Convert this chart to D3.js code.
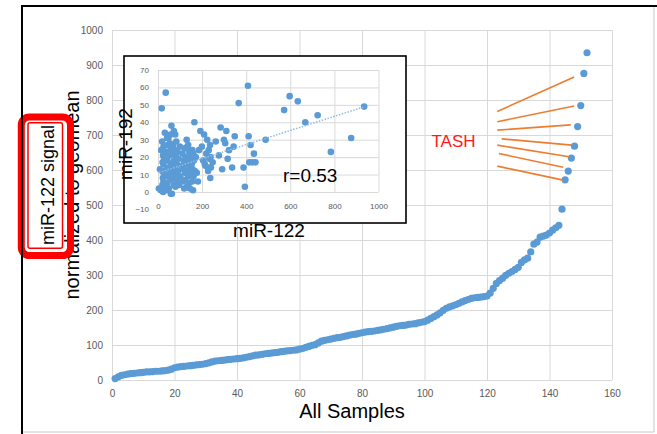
<!DOCTYPE html>
<html>
<head>
<meta charset="utf-8">
<script src="https://cdn.jsdelivr.net/npm/d3@7"></script>
<style>
  html, body { margin: 0; padding: 0; background: #fff; }
  svg { display: block; font-family: "Liberation Sans", Arial, sans-serif; }
</style>
</head>
<body>
<div id="chart"></div>
<script>
// miR-122 signal per sample, in sample (rank) order
const mir122 = [
  4, 9, 13, 15, 17, 18, 19, 20, 21, 22, 23, 23, 24, 25, 25, 26, 27, 28, 31, 35,
  37, 38, 39, 40, 41, 42, 43, 44, 45, 47, 49, 52, 54, 55, 56, 57, 58, 59, 60, 61,
  62, 63, 65, 67, 69, 71, 72, 73, 75, 76, 77, 78, 79, 81, 82, 83, 84, 85, 86, 88,
  90, 93, 96, 99, 101, 106, 111, 113, 115, 117, 119, 121, 122, 124, 126, 128, 130, 131, 133, 135,
  137, 138, 139, 140, 142, 143, 145, 147, 149, 151, 153, 155, 156, 157, 159, 160, 161, 163, 165, 167,
  171, 176, 181, 186, 192, 199, 205, 209, 212, 215, 219, 223, 227, 230, 233, 235, 236, 237, 238, 240,
  248, 262, 276, 284, 291, 299, 305, 310, 316, 322, 336, 343, 348, 366, 388, 394, 408, 411, 414, 420,
  428, 435, 442, 488, 572, 597, 634, 668, 724, 784, 876, 935
];
// miR-192 signal for the same samples
const mir192 = [
  2, 13, 1, 24, 48, 12, 29, 4, 17, 8, 21, 0, 16, 26, 6, 11, 3, 19, 34, 57,
  9, 1, 23, 14, 31, 5, 18, 27, 10, 31, 2, 21, 28, 13, 7, 33, -1, 25, 16, 38,
  9, -1, 22, 12, 27, 4, 35, 18, 8, 24, 14, 33, 3, 20, 11, 29, 6, 16, 7, 23,
  12, 19, 4, 26, 9, 15, 22, 6, 13, 18, 2, 25, 11, 7, 20, 16, 30, 3, 26, 12,
  27, 9, 19, 5, 23, 14, 2, 17, 10, 21, 16, 6, 24, 13, 1, 22, 9, 18, 40, 12,
  20, 11, 6, 24, 35, 26, 18, 33, 16, 15, 22, 30, 12, 24, 19, 14, 27, 8, 20, 14,
  17, 29, 21, 37, 13, 30, 28, 35, 19, 24, 14, 26, 32, 51, 14, 3, 61, 32, 17, 27,
  17, 22, 17, 30, 47, 55, 52, 40, 44, 23, 31, 49
];

const mainXTicks = [0, 20, 40, 60, 80, 100, 120, 140, 160];
const mainYTicks = [0, 100, 200, 300, 400, 500, 600, 700, 800, 900, 1000];
const insetXTicks = [0, 200, 400, 600, 800, 1000];
const insetYTicks = [-10, 0, 10, 20, 30, 40, 50, 60, 70];

// linear trendline of the inset
const trendIntercept = 11;
const trendSlope = 0.0405;

// TASH pointer lines, in main chart units (sample, signal)
const tashFromX = [123.3, 123.3, 123.3, 124.7, 123.3, 123.8, 123.3];
const tashFromY = [767, 738, 714, 689, 671, 647, 611];
const tashToX = [147.9, 147.9, 146.8, 147.1, 146.3, 144.4, 144.4];
const tashToY = [866, 783, 729, 671, 638, 608, 571];

const W = 657, H = 434;
const blue = "#5b9bd5", grid = "#d9d9d9", tickCol = "#595959";
const fmt = d3.format("d");

const svg = d3.select("#chart").append("svg")
    .attr("width", W)
    .attr("height", H);

svg.append("rect").attr("width", W).attr("height", H).attr("fill", "#fff");

// ---- main chart
const x = d3.scaleLinear().domain([0, 160]).range([112, 612]);
const y = d3.scaleLinear().domain([0, 1000]).range([380, 30]);

const yAxis = svg.append("g")
    .attr("transform", `translate(${x(0)},0)`)
    .call(d3.axisLeft(y).tickValues(mainYTicks).tickFormat(fmt)
        .tickSize(-(x(160) - x(0))).tickPadding(9));
const xAxis = svg.append("g")
    .attr("transform", `translate(0,${y(0)})`)
    .call(d3.axisBottom(x).tickValues(mainXTicks).tickFormat(fmt)
        .tickSize(-(y(0) - y(1000))).tickPadding(10));

[xAxis, yAxis].forEach(function (g) {
    g.select(".domain").remove();
    g.selectAll(".tick line").attr("stroke", grid);
    g.selectAll(".tick text")
        .attr("fill", tickCol)
        .style("font-size", "10px")
        .style("font-family", "'Liberation Sans', Arial, sans-serif");
});

svg.append("g").selectAll("circle")
    .data(mir122)
    .join("circle")
    .attr("cx", (d, i) => x(i + 1))
    .attr("cy", d => y(d))
    .attr("r", 3.6)
    .attr("fill", blue);

// TASH annotation
svg.append("g").selectAll("line")
    .data(tashFromX)
    .join("line")
    .attr("x1", d => x(d))
    .attr("y1", (d, i) => y(tashFromY[i]))
    .attr("x2", (d, i) => x(tashToX[i]))
    .attr("y2", (d, i) => y(tashToY[i]))
    .attr("stroke", "#ed7d31")
    .attr("stroke-width", 1.6);

svg.append("text")
    .attr("x", 431.5)
    .attr("y", 146.5)
    .attr("fill", "#ff1a1a")
    .style("font-size", "17px")
    .text("TASH");

// axis titles
svg.append("text")
    .attr("x", 352)
    .attr("y", 418)
    .attr("text-anchor", "middle")
    .style("font-size", "20px")
    .text("All Samples");

svg.append("text")
    .attr("transform", "translate(72,195) rotate(-90)")
    .attr("dy", "0.35em")
    .attr("text-anchor", "middle")
    .style("font-size", "20px")
    .text("normalized to geomean");

svg.append("text")
    .attr("transform", "translate(47.5,185) rotate(-90)")
    .attr("dy", "0.35em")
    .attr("text-anchor", "middle")
    .style("font-size", "18px")
    .text("miR-122 signal");

// red highlight box
svg.append("rect")
    .attr("x", 21.3).attr("y", 117)
    .attr("width", 49.2).attr("height", 138.5)
    .attr("rx", 8)
    .attr("fill", "none")
    .attr("stroke", "#ff0000")
    .attr("stroke-width", 7);
svg.append("rect")
    .attr("x", 28).attr("y", 122.7)
    .attr("width", 34.5).attr("height", 125.6)
    .attr("rx", 2)
    .attr("fill", "none")
    .attr("stroke", "#ff0000")
    .attr("stroke-width", 1.5);

// ---- inset scatter
svg.append("rect")
    .attr("x", 124).attr("y", 56)
    .attr("width", 282).attr("height", 167)
    .attr("fill", "#fff")
    .attr("stroke", "#000")
    .attr("stroke-width", 1.6);

const ix = d3.scaleLinear().domain([0, 1000]).range([158, 378.5]);
const iy = d3.scaleLinear().domain([-10, 70]).range([209.4, 70]);

const iyAxis = svg.append("g")
    .attr("transform", `translate(${ix(0)},0)`)
    .call(d3.axisLeft(iy).tickValues(insetYTicks).tickFormat(fmt)
        .tickSize(-(ix(1000) - ix(0))).tickPadding(9));
iyAxis.selectAll(".tick").filter(d => d < 0).select("line").remove();

const ixAxis = svg.append("g")
    .attr("transform", `translate(0,${iy(0)})`)
    .call(d3.axisBottom(ix).tickValues(insetXTicks).tickFormat(fmt)
        .tickSize(-(iy(0) - iy(70))).tickPadding(11));

[ixAxis, iyAxis].forEach(function (g) {
    g.select(".domain").remove();
    g.selectAll(".tick line").attr("stroke", grid);
    g.selectAll(".tick text")
        .attr("fill", tickCol)
        .style("font-size", "8px")
        .style("font-family", "'Liberation Sans', Arial, sans-serif");
});

svg.append("g").selectAll("circle")
    .data(mir122)
    .join("circle")
    .attr("cx", d => ix(d))
    .attr("cy", (d, i) => iy(mir192[i]))
    .attr("r", 3.3)
    .attr("fill", blue);

const xmin = d3.min(mir122), xmax = d3.max(mir122);
svg.append("line")
    .attr("x1", ix(xmin)).attr("y1", iy(trendIntercept + trendSlope * xmin))
    .attr("x2", ix(xmax)).attr("y2", iy(trendIntercept + trendSlope * xmax))
    .attr("stroke", "#8fbbe6")
    .attr("stroke-width", 1.5)
    .attr("stroke-dasharray", "1.5,1.5");

svg.append("text")
    .attr("x", 283)
    .attr("y", 182)
    .style("font-size", "19px")
    .text("r=0.53");

svg.append("text")
    .attr("x", 269)
    .attr("y", 237)
    .attr("text-anchor", "middle")
    .style("font-size", "19px")
    .text("miR-122");

svg.append("text")
    .attr("transform", "translate(125,144) rotate(-90)")
    .attr("dy", "0.35em")
    .attr("text-anchor", "middle")
    .style("font-size", "19px")
    .text("miR-192");

// screenshot frame
svg.append("line").attr("x1", 22).attr("y1", 5).attr("x2", 22).attr("y2", H)
    .attr("stroke", "#000").attr("stroke-width", 2);
svg.append("line").attr("x1", 21).attr("y1", 6).attr("x2", W).attr("y2", 6)
    .attr("stroke", "#000").attr("stroke-width", 2);
svg.append("line").attr("x1", 654).attr("y1", 7).attr("x2", 654).attr("y2", 432)
    .attr("stroke", "#c8c8c8").attr("stroke-width", 1);
svg.append("line").attr("x1", 23).attr("y1", 432).attr("x2", 654).attr("y2", 432)
    .attr("stroke", "#c8c8c8").attr("stroke-width", 1);
</script>
</body>
</html>
